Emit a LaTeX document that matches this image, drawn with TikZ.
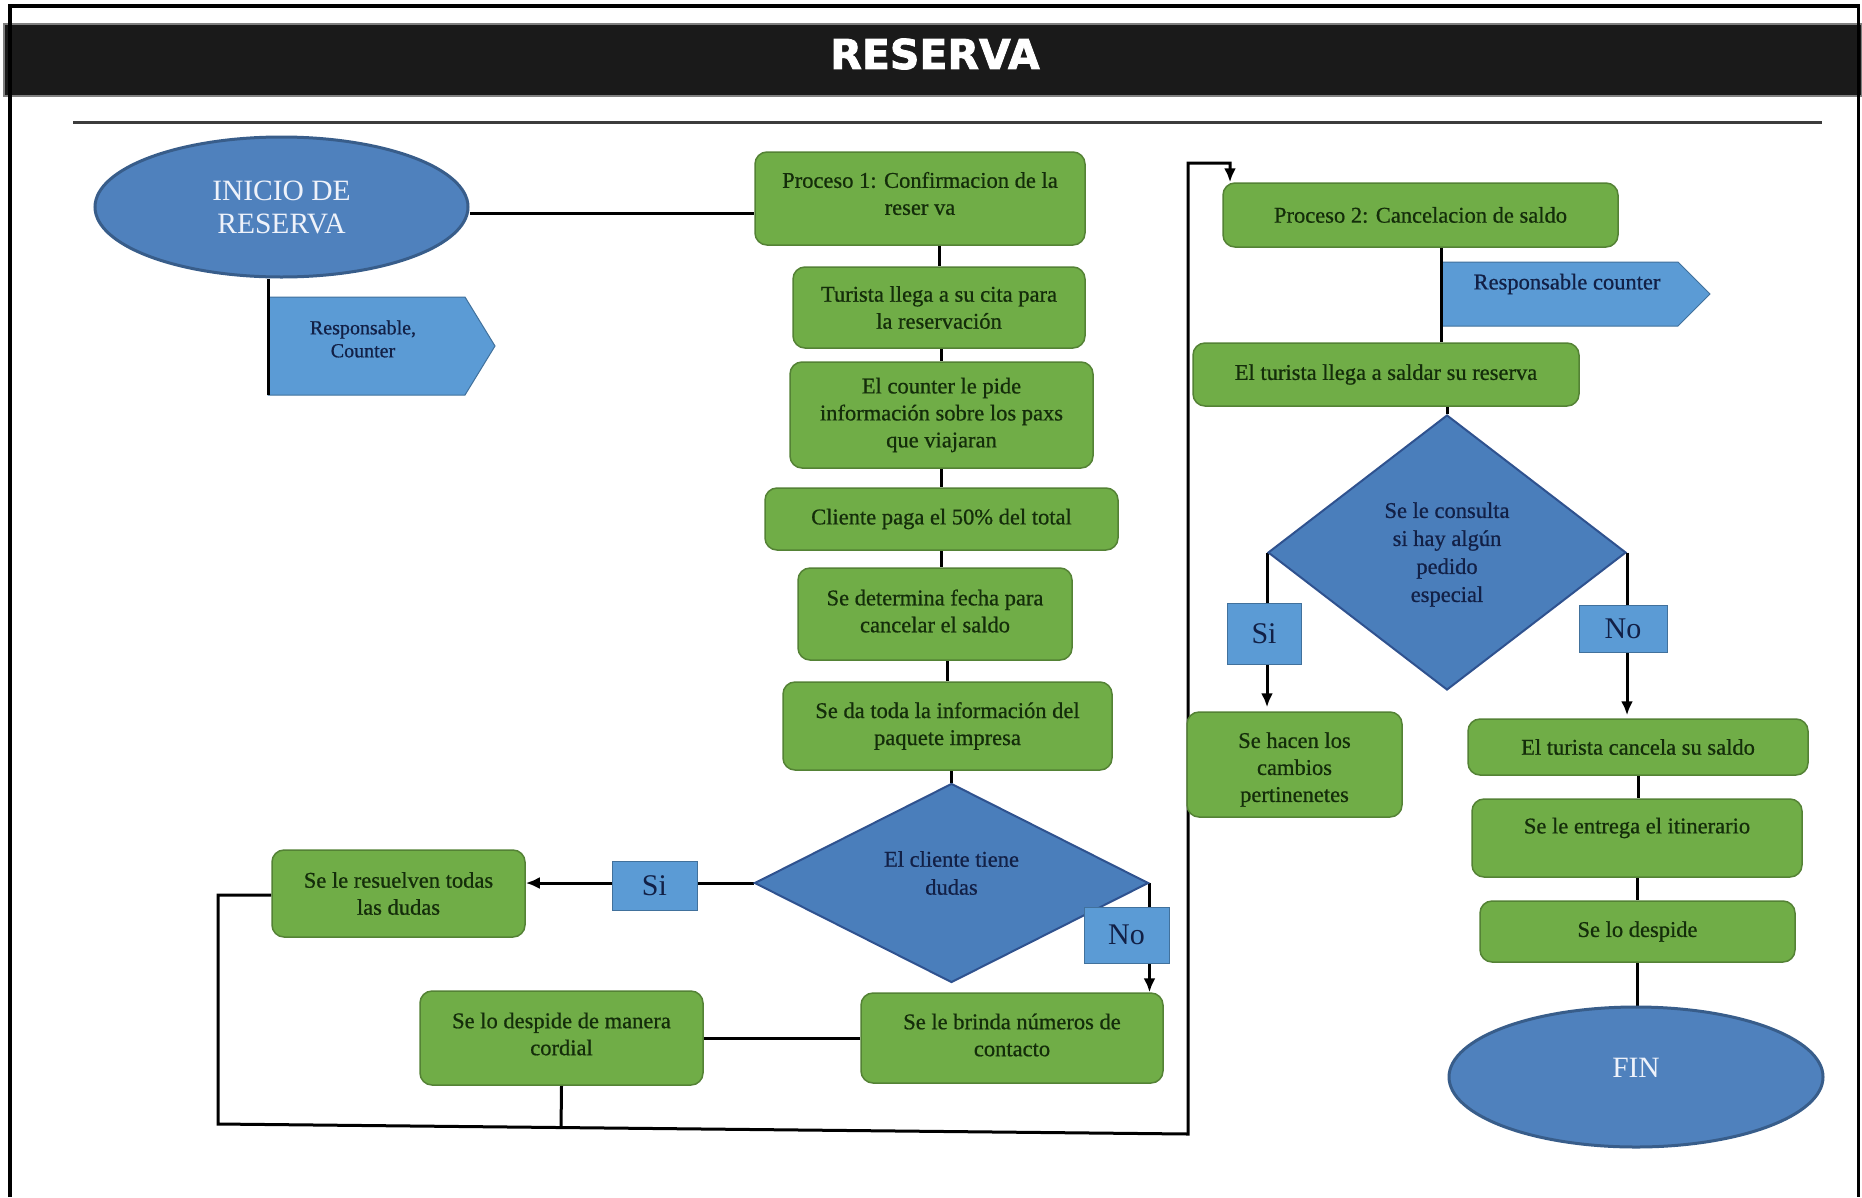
\documentclass[tikz,border=0pt]{standalone}
\usepackage{fontspec}
\setmainfont{Liberation Serif}
\newfontfamily\boxfam[FakeBold=0.7]{Liberation Serif}
\newfontfamily\titlefont[FakeBold=2]{DejaVu Sans Bold}
\usetikzlibrary{shapes.geometric,arrows.meta,calc}
\definecolor{gfill}{RGB}{112,173,71}
\definecolor{gborder}{RGB}{84,130,53}
\definecolor{gtext}{RGB}{20,45,10}
\definecolor{dfill}{RGB}{74,126,187}
\definecolor{dborder}{RGB}{47,82,143}
\definecolor{lfill}{RGB}{91,155,213}
\definecolor{lborder}{RGB}{65,113,156}
\definecolor{btext}{RGB}{18,32,70}
\definecolor{efill}{RGB}{79,129,189}
\definecolor{eborder}{RGB}{56,93,138}
\definecolor{etext}{RGB}{238,242,250}
\definecolor{hdr}{RGB}{26,26,26}
\definecolor{rulec}{RGB}{60,60,60}
\pgfdeclarelayer{back}
\pgfdeclarelayer{bg}
\pgfsetlayers{back,bg,main}
\newcommand\boxfont{\boxfam\fontsize{22.5}{27}\selectfont}
\newcommand\dfont{\boxfam\fontsize{22.5}{28}\selectfont}
\newcommand\bigfont{\fontsize{29.5}{33}\selectfont}
\newcommand\sinofont{\fontsize{30}{34}\selectfont}
\newcommand\respfont{\boxfam\fontsize{20}{23}\selectfont}
\begin{document}
\begin{tikzpicture}[x=1pt,y=-1pt,line join=miter,
  gbox/.style n args={2}{draw=gborder, fill=gfill, line width=1.5pt, rounded corners=12pt,
    inner sep=0pt, minimum width=#1pt, minimum height=#2pt, align=center, text=gtext, font=\boxfont},
  dec/.style n args={2}{diamond, draw=dborder, fill=dfill, line width=2pt, inner sep=0pt,
    minimum width=#1pt, minimum height=#2pt},
  dtext/.style={align=center, text=btext, font=\dfont, inner sep=0pt},
  gtxt/.style={align=center, text=gtext, font=\boxfont, inner sep=0pt},
  tag/.style n args={2}{draw=lborder, fill=lfill, line width=1pt, inner sep=0pt,
    minimum width=#1pt, minimum height=#2pt, text=btext, font=\sinofont},
  term/.style={ellipse, draw=eborder, fill=efill, line width=3pt, inner sep=0pt,
    minimum width=373pt, minimum height=140pt, text=etext, font=\bigfont, align=center},
  conn/.style={line width=3pt, black},
  arr/.style={conn, -{Latex[length=14pt,width=12pt]}},
  pent/.style={fill=lfill, draw=lborder, line width=1pt}]
\useasboundingbox (0,0) rectangle (1862,1197);
\begin{pgfonlayer}{back}
\fill[white] (0,0) rectangle (1862,1197);
\end{pgfonlayer}

% header
\fill[hdr] (4,24) rectangle (1862,96);
\draw[gray, line width=2pt] (4,24) rectangle (1862,96);
\node[text=white, font=\titlefont\fontsize{41}{41}\selectfont, inner sep=0pt] (title) at (935,54) {RESERVA};
\draw[rulec, line width=3pt] (73,122) -- (1822,122);
\draw[line width=4pt] (9.5,1197) -- (9.5,6) -- (1858,6);
\draw[line width=3pt] (1858,4) -- (1858,1197);

% left column
\node[term] (inicio) at (281.5,207) {INICIO DE\\RESERVA};
\node[gbox={330}{93}] (p1) at (920,198.5) {};
\node[gtxt] (p1t) at ([yshift=5pt]p1.center) {Proceso 1: Confirmacion de la\\reser va};
\node[gbox={292}{81}] (t1) at (939,307.5) {Turista llega a su cita para\\la reservación};
\node[gbox={303}{106}] (c1) at (941.5,415) {El counter le pide\\información sobre los paxs\\que viajaran};
\node[gbox={353}{62}] (pay) at (941.5,519) {Cliente paga el 50\% del total};
\node[gbox={274}{92}] (fecha) at (935,614) {};
\node[gtxt] (fechat) at ([yshift=3pt]fecha.center) {Se determina fecha para\\cancelar el saldo};
\node[gbox={329}{88}] (info) at (947.5,726) {Se da toda la información del\\paquete impresa};
\node[dec={394}{199}] (d1) at (951.5,883) {};
\node[dtext] (d1t) at ([yshift=10pt]d1.center) {El cliente tiene\\dudas};
\node[tag={85}{49}] (si1) at (654.5,885.5) {Si};
\node[gbox={253}{87}] (res) at (398.5,893.5) {Se le resuelven todas\\las dudas};
\node[tag={85}{56}] (no1) at (1126.5,935) {No};
\node[gbox={302}{90}] (brinda) at (1012,1038) {};
\node[gtxt] (brindat) at ([yshift=3pt]brinda.center) {Se le brinda números de\\contacto};
\node[gbox={283}{94}] (desp1) at (561.5,1038) {};
\node[gtxt] (desp1t) at ([yshift=4pt]desp1.center) {Se lo despide de manera\\cordial};

% right column
\node[gbox={395}{64}] (p2) at (1420.5,215) {Proceso 2: Cancelacion de saldo};
\node[gbox={386}{63}] (llega) at (1386,374.5) {El turista llega a saldar su reserva};
\node[dec={358}{275}] (d2) at (1447,552.5) {};
\node[dtext] (d2t) at ([yshift=-2pt]d2.center) {Se le consulta\\si hay algún\\pedido\\especial};
\node[tag={74}{61}] (si2) at (1264,633.5) {Si};
\node[tag={88}{47}] (no2) at (1623,628.5) {No};
\node[gbox={215}{105}] (cambios) at (1294.5,764.5) {};
\node[gtxt] (cambiost) at ([yshift=-5pt]cambios.center) {Se hacen los\\cambios\\pertinenetes};
\node[gbox={340}{56}] (cancela) at (1638,747) {El turista cancela su saldo};
\node[gbox={330}{78}] (entrega) at (1637,838) {};
\node[gtxt] (entregat) at ([yshift=10pt]entrega.center) {Se le entrega el itinerario};
\node[gbox={315}{61}] (desp2) at (1637.5,931.5) {Se lo despide};
\node[term, minimum width=374pt] (fin) at (1636,1077) {};
\node[text=etext, font=\bigfont, inner sep=0pt] (fint) at ([yshift=9pt]fin.center) {FIN};

% responsible tags
\node[text=btext, font=\respfont, align=center, inner sep=0pt] (resp1) at (363,339) {Responsable,\\Counter};
\node[text=btext, font=\boxfont, inner sep=0pt] (resp2) at (1567,284) {Responsable counter};

\begin{pgfonlayer}{bg}
\coordinate (r1nw) at (268,297); \coordinate (r1sw) at (268,395);
\path[pent] (r1nw) -- (465,297) -- (495,346) -- (465,395) -- (r1sw) -- cycle;
\coordinate (r2nw) at (1441,262); \coordinate (r2sw) at (1441,326);
\path[pent] (r2nw) -- (1678,262) -- (1710,294) -- (1678,326) -- (r2sw) -- cycle;

\draw[conn] ([yshift=-6pt]inicio.east) -- ([yshift=-6pt]inicio.east -| p1.west);
\draw[conn] (inicio.south -| r1nw) -- (r1sw);
\draw[conn] (t1.north |- p1.south) -- (t1.north);
\draw[conn] (c1.north |- t1.south) -- (c1.north);
\draw[conn] (pay.north |- c1.south) -- (pay.north);
\draw[conn] (pay.south) -- (pay.south |- fecha.north);
\draw[conn] (info.north |- fecha.south) -- (info.north);
\draw[conn] (d1.north |- info.south) -- (d1.north);
\draw[arr] (d1.west) -- (d1.west -| res.east);
\draw[arr] (d1.east) -- (d1.east |- brinda.north);
\draw[conn] (brinda.west) -- (brinda.west -| desp1.east);

\coordinate (lp1) at (218,1124);
\coordinate (lp2) at (1188,1134);
\coordinate (lp3) at (1188,163);
\coordinate (p2in) at (1230,163);
\draw[arr] ([yshift=-1.5pt]res.west) -- ([yshift=-1.5pt]res.west -| lp1) -- (lp1) -- (lp2) -- (lp3) -- (p2in) -- (p2in |- p2.north);
\draw[conn] (desp1.south) -- ($(lp1)!(desp1.south)!(lp2)$);

\draw[conn] (p2.south -| r2nw) -- (llega.north -| r2nw);
\draw[conn] (d2.north |- llega.south) -- (d2.north);
\draw[arr, shorten >=4pt] (d2.west) -- (d2.west |- cambios.north);
\draw[arr, shorten >=3pt] (d2.east) -- (d2.east |- cancela.north);
\draw[conn] (cancela.south) -- (cancela.south |- entrega.north);
\draw[conn] (entrega.south) -- (entrega.south |- desp2.north);
\draw[conn] (desp2.south) -- (desp2.south |- fin.north);
\end{pgfonlayer}
\end{tikzpicture}
\end{document}
